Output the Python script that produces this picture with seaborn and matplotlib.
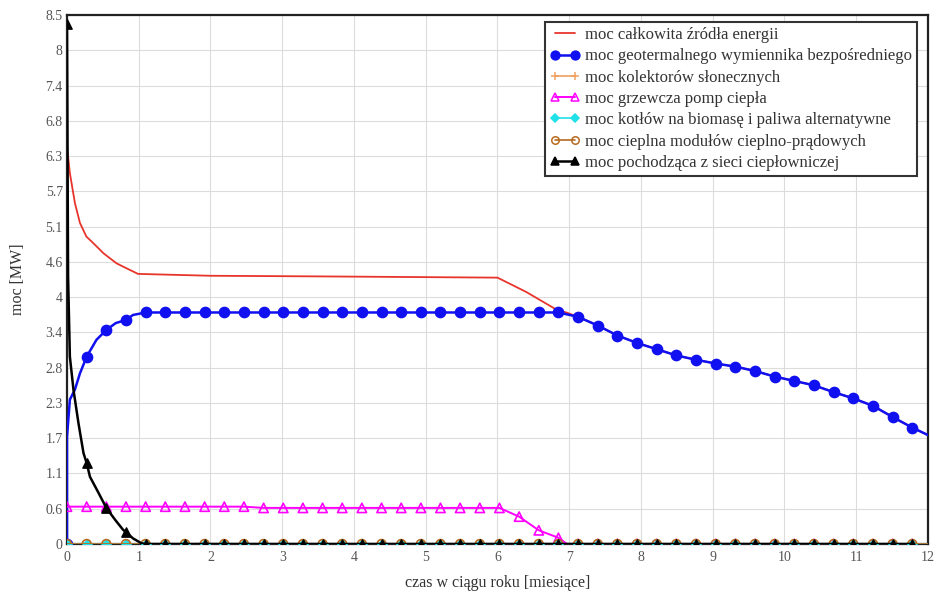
import matplotlib
matplotlib.use("Agg")
import matplotlib.pyplot as plt
from matplotlib.lines import Line2D
import numpy as np
import pandas as pd
import seaborn as sns

sns.set_style("white")
plt.rcParams["font.family"] = ["Liberation Serif", "DejaVu Serif"]
plt.rcParams["font.size"] = 10

# marker grid: one sample every 200 h, expressed in months (730 h)
months = [round(k * 200 / 730, 3) for k in range(44)]

# values at the marker grid [MW]
geo_mark = [0.0, 3.01, 3.44, 3.60, 3.72, 3.72, 3.72, 3.72, 3.72, 3.72, 3.72,
            3.72, 3.72, 3.72, 3.72, 3.72, 3.72, 3.72, 3.72, 3.72, 3.72, 3.72,
            3.72, 3.72, 3.72, 3.72, 3.65, 3.51, 3.35, 3.23, 3.13, 3.03, 2.96,
            2.90, 2.85, 2.78, 2.69, 2.62, 2.55, 2.44, 2.34, 2.22, 2.04, 1.87]
pump_mark = [0.60, 0.60, 0.60, 0.60, 0.60, 0.60, 0.60, 0.60, 0.60, 0.60, 0.58,
             0.58, 0.58, 0.58, 0.58, 0.58, 0.58, 0.58, 0.58, 0.58, 0.58, 0.58,
             0.58, 0.44, 0.22, 0.10, 0.0, 0.0, 0.0, 0.0, 0.0, 0.0, 0.0,
             0.0, 0.0, 0.0, 0.0, 0.0, 0.0, 0.0, 0.0, 0.0, 0.0, 0.0]
grid_mark = [8.35, 1.30, 0.58, 0.19, 0.0, 0.0, 0.0, 0.0, 0.0, 0.0, 0.0,
             0.0, 0.0, 0.0, 0.0, 0.0, 0.0, 0.0, 0.0, 0.0, 0.0, 0.0,
             0.0, 0.0, 0.0, 0.0, 0.0, 0.0, 0.0, 0.0, 0.0, 0.0, 0.0,
             0.0, 0.0, 0.0, 0.0, 0.0, 0.0, 0.0, 0.0, 0.0, 0.0, 0.0]
solar_mark = [0.0, 0.0, 0.0, 0.0, 0.0, 0.0, 0.0, 0.0, 0.0, 0.0, 0.0,
              0.0, 0.0, 0.0, 0.0, 0.0, 0.0, 0.0, 0.0, 0.0, 0.0, 0.0,
              0.0, 0.0, 0.0, 0.0, 0.0, 0.0, 0.0, 0.0, 0.0, 0.0, 0.0,
              0.0, 0.0, 0.0, 0.0, 0.0, 0.0, 0.0, 0.0, 0.0, 0.0, 0.0]
biomass_mark = list(solar_mark)
chp_mark = list(solar_mark)

# extra line-only points (shape between markers)
geo_extra_t = [0.0, 0.04, 0.11, 0.18, 0.41, 0.68, 0.92, 12.0]
geo_extra_v = [1.72, 2.32, 2.48, 2.74, 3.28, 3.55, 3.68, 1.75]
pump_extra_t = [6.97]
pump_extra_v = [0.0]
grid_extra_t = [0.015, 0.04, 0.09, 0.16, 0.23, 0.32, 0.44, 0.67, 0.78, 0.92, 1.04]
grid_extra_v = [4.30, 3.01, 2.48, 1.94, 1.46, 1.08, 0.82, 0.39, 0.23, 0.09, 0.01]
solar_extra_t = [12.0]
solar_extra_v = [0.0]

# total power (line only)
total_t = [0.0, 0.04, 0.11, 0.18, 0.27, 0.37, 0.51, 0.69, 0.83, 0.99, 2.0,
           3.5, 6.0, 6.4, 6.83, 6.96, 7.12, 7.40, 7.67, 7.95, 8.22, 8.49,
           8.77, 9.04, 9.32, 9.59, 9.86, 10.14, 10.41, 10.68, 10.96, 11.23,
           11.51, 11.78, 12.0]
total_v = [6.39, 5.96, 5.48, 5.16, 4.94, 4.83, 4.67, 4.51, 4.43, 4.34, 4.31,
           4.30, 4.28, 4.05, 3.76, 3.72, 3.65, 3.51, 3.35, 3.23, 3.13, 3.03,
           2.96, 2.90, 2.85, 2.78, 2.69, 2.62, 2.55, 2.44, 2.34, 2.22,
           2.04, 1.87, 1.75]

labels = ["moc całkowita źródła energii",
          "moc geotermalnego wymiennika bezpośredniego",
          "moc kolektorów słonecznych",
          "moc grzewcza pomp ciepła",
          "moc kotłów na biomasę i paliwa alternatywne",
          "moc cieplna modułów cieplno-prądowych",
          "moc pochodząca z sieci ciepłowniczej"]

ytick_labels = ["0", "0.6", "1.1", "1.7", "2.3", "2.8", "3.4", "4", "4.6",
                "5.1", "5.7", "6.3", "6.8", "7.4", "8", "8.5"]


def line_frame(mark, extra_t, extra_v):
    a = pd.DataFrame({"t": months, "v": mark})
    b = pd.DataFrame({"t": extra_t, "v": extra_v})
    return pd.concat([a, b]).sort_values("t", kind="stable")


fig = plt.figure(figsize=(9.37, 5.94), dpi=100)
ax = fig.add_axes([67 / 937, 1 - 544 / 594, 861 / 937, 529 / 594])
ax.set_axisbelow(True)
ax.grid(color="#dcdcdc", lw=0.8)

# (marks, extra t, extra v, color, marker, size, filled, line width)
styles = [
    (geo_mark, geo_extra_t, geo_extra_v, "#1010f0", "o", 55, True, 1.8),
    (solar_mark, solar_extra_t, solar_extra_v, "#f0a060", "+", 40, True, 1.2),
    (pump_mark, pump_extra_t, pump_extra_v, "#ff00ff", "^", 45, False, 1.4),
    (biomass_mark, solar_extra_t, solar_extra_v, "#20e0e8", "D", 22, True, 1.2),
    (chp_mark, solar_extra_t, solar_extra_v, "#b86a20", "o", 40, False, 1.2),
    (grid_mark, grid_extra_t, grid_extra_v, "#000000", "^", 45, True, 1.8),
]

sns.lineplot(x=total_t, y=total_v, color="#e8352c", lw=1.3, sort=False,
             estimator=None, ax=ax, zorder=2)

handles = [Line2D([], [], color="#e8352c", lw=1.3)]
z = 3
for mark, et, ev, col, mk, size, filled, lw in styles:
    df = line_frame(mark, et, ev)
    sns.lineplot(data=df, x="t", y="v", color=col, lw=lw, sort=False,
                 estimator=None, ax=ax, zorder=z)
    if filled:
        sns.scatterplot(x=months, y=mark, marker=mk, s=size, color=col,
                        edgecolor=col, linewidth=1.0, ax=ax, zorder=z + 0.5)
    else:
        sns.scatterplot(x=months, y=mark, marker=mk, s=size, color="none",
                        edgecolor=col, linewidth=1.2, ax=ax, zorder=z + 0.5)
    handles.append(Line2D([], [], color=col, lw=lw, marker=mk,
                          markersize=np.sqrt(size) * 0.85,
                          markerfacecolor=col if filled else "none",
                          markeredgecolor=col, markeredgewidth=1.1))
    z += 1

ax.set_xlim(0, 12)
ax.set_ylim(0, 8.5)
ax.set_xticks(range(13))
ax.set_yticks(np.linspace(0, 8.5, 16))
ax.set_yticklabels(ytick_labels)
ax.tick_params(length=0, labelsize=10, labelcolor="#555555")
ax.tick_params(axis="y", pad=3)
ax.tick_params(axis="x", pad=5)

for sp in ax.spines.values():
    sp.set_color("#222222")
    sp.set_linewidth(1.6)

ax.set_xlabel("czas w ciągu roku [miesiące]", fontsize=11.5, color="#333333",
              labelpad=8)
ax.set_ylabel("moc [MW]", fontsize=11.5, color="#333333", labelpad=14)

leg = ax.legend(handles, labels, loc="upper right", numpoints=2,
                bbox_to_anchor=(917 / 937, 1 - 22 / 594),
                bbox_transform=fig.transFigure, borderaxespad=0,
                fancybox=False, framealpha=1, edgecolor="#333333",
                handlelength=1.8, handletextpad=0.3, borderpad=0.3,
                labelspacing=0.32, fontsize=12)
leg.get_frame().set_linewidth(1.5)
for t in leg.get_texts():
    t.set_color("#333333")

fig.savefig("out.png", dpi=100)
